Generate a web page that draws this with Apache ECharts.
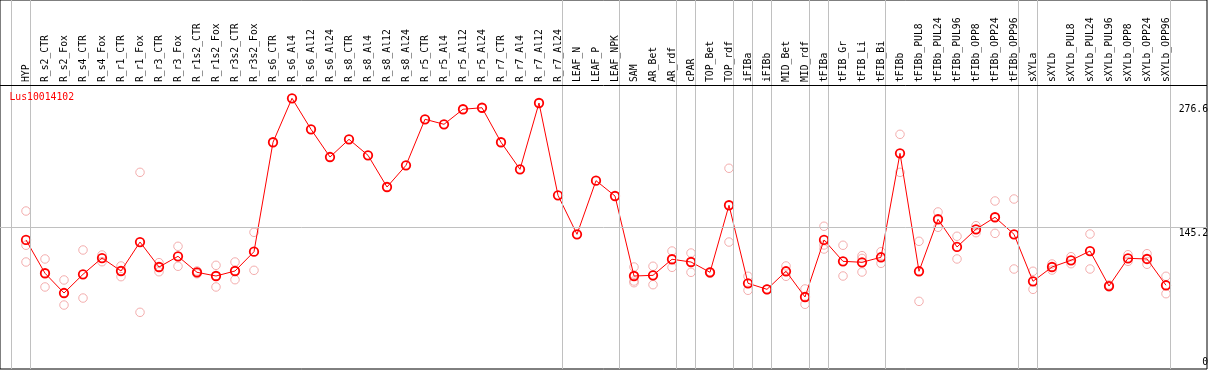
<!DOCTYPE html>
<html>
<head>
<meta charset="utf-8">
<script src="https://cdn.jsdelivr.net/npm/echarts@6/dist/echarts.min.js"></script>
<style>
html,body{margin:0;padding:0;background:#fff;}
#chart{width:1209px;height:370px;}
</style>
</head>
<body>
<div id="chart"></div>
<script>
// ---- data ----
const categories = ["HYP","R_s2_CTR","R_s2_Fox","R_s4_CTR","R_s4_Fox","R_r1_CTR","R_r1_Fox","R_r3_CTR","R_r3_Fox","R_r1s2_CTR","R_r1s2_Fox","R_r3s2_CTR","R_r3s2_Fox","R_s6_CTR","R_s6_Al4","R_s6_Al12","R_s6_Al24","R_s8_CTR","R_s8_Al4","R_s8_Al12","R_s8_Al24","R_r5_CTR","R_r5_Al4","R_r5_Al12","R_r5_Al24","R_r7_CTR","R_r7_Al4","R_r7_Al12","R_r7_Al24","LEAF_N","LEAF_P","LEAF_NPK","SAM","AR_Bet","AR_rdf","cPAR","TOP_Bet","TOP_rdf","iFIBa","iFIBb","MID_Bet","MID_rdf","tFIBa","tFIB_Gr","tFIB_Li","tFIB_Bi","tFIBb","tFIBb_PUL8","tFIBb_PUL24","tFIBb_PUL96","tFIBb_OPP8","tFIBb_OPP24","tFIBb_OPP96","sXYLa","sXYLb","sXYLb_PUL8","sXYLb_PUL24","sXYLb_PUL96","sXYLb_OPP8","sXYLb_OPP24","sXYLb_OPP96"];

const meanValues = [132.2,97.0,76.1,95.9,113.1,99.4,130.0,103.6,114.9,98.0,94.1,99.4,119.8,235.5,282.0,249.2,219.9,238.6,221.7,188.2,211.1,259.8,254.5,270.4,272.0,235.5,206.9,277.0,179.4,138.2,194.9,178.7,94.1,94.8,111.8,108.9,98.0,168.9,86.4,80.0,99.1,71.9,132.2,109.6,108.6,113.9,223.8,99.1,154.1,124.8,143.5,156.2,138.2,88.5,103.6,110.7,120.5,83.5,112.8,112.1,84.3];

const repA = [162.8,112.1,89.9,121.6,116.3,104.7,203.7,108.2,125.5,99.4,105.4,108.9,140.3,null,null,null,null,null,null,null,null,null,null,null,null,null,null,null,null,null,null,null,103.6,104.4,120.5,118.4,98.6,208.0,93.8,80.4,104.7,80.4,146.7,126.6,115.6,119.8,243.9,130.8,161.8,136.1,147.3,173.4,175.5,99.1,106.8,114.5,138.5,84.6,116.6,117.7,93.8];
const repB = [126.6,82.5,63.4,70.8,109.2,93.4,55.7,98.6,104.4,96.5,82.5,90.2,100.1,null,null,null,null,null,null,null,null,null,null,null,null,null,null,null,null,null,null,null,88.8,84.9,103.3,98.0,96.9,130.0,79.0,79.6,93.8,64.2,126.9,94.1,112.7,107.5,203.7,67.3,145.6,112.1,139.9,139.2,101.5,80.0,100.4,107.1,101.5,82.5,109.6,106.5,75.4];
const repC = [108.9,null,null,null,null,null,null,null,null,null,null,null,null,null,null,null,null,null,null,null,null,null,null,null,null,null,null,null,null,null,null,null,87.0,null,null,null,null,null,null,null,null,null,122.6,null,98.3,null,null,null,null,null,null,null,null,null,null,null,null,null,null,null,null];

// group separators: drawn after these category indices (-1 = before first)
const groupEnds = [-1,0,28,31,34,35,37,38,39,41,42,45,52,53,60];
const yTickLabels = [0,145.2,276.6];
const seriesName = "Lus10014102";

// ---- layout constants ----
const FONT = "DejaVu Sans Mono";
const FS = 9.75;
const PX = 0.9458;                 // pixels per unit
const xMin = -26/19, xMax = 1181/19;
const yMin = -4/PX, yMax = 365/PX;
const headerLine = 280/PX;         // value at the header/plot divider
const sepOffset = 4.5/19;

const repData = [];
[repA, repB, repC].forEach(arr => arr.forEach((v, i) => { if (v != null) repData.push([i, v]); }));
const meanData = meanValues.map((v, i) => [i, v]);

const markData = groupEnds.map(g => ({ xAxis: g + sepOffset, label: { show: false } }));
markData.push({ yAxis: headerLine, lineStyle: { color: '#000', width: 1, type: 'solid' }, label: { show: false } });
yTickLabels.forEach(t => {
  markData.push({
    yAxis: t,
    lineStyle: { color: t === 145.2 ? '#c0c0c0' : 'transparent', width: 1, type: 'solid' },
    label: {
      show: true,
      position: t === 0 ? 'insideEndTop' : 'insideEndBottom',
      formatter: String(t),
      color: '#000',
      fontFamily: FONT,
      fontSize: FS,
      distance: t === 0 ? [-1, -2] : [-1, 1]
    }
  });
});

const chart = echarts.init(document.getElementById('chart'), null, { renderer: 'canvas' });
chart.setOption({
  animation: false,
  backgroundColor: '#fff',
  title: {
    text: seriesName,
    left: 9.5, top: 92, padding: 0,
    textStyle: { color: '#ff0000', fontFamily: FONT, fontSize: FS, fontWeight: 'normal' }
  },
  grid: { left: 0, right: 2, top: 0, bottom: 1, show: true, borderColor: '#000', borderWidth: 1, backgroundColor: '#fff' },
  xAxis: {
    type: 'value', position: 'top', offset: -85,
    min: xMin, max: xMax,
    axisLine: { show: true, lineStyle: { color: 'transparent', width: 1 } },
    axisTick: { show: false },
    splitLine: { show: false },
    axisLabel: {
      customValues: categories.map((_, i) => i),
      formatter: v => categories[Math.round(v)],
      rotate: 90, margin: 3,
      fontFamily: FONT, fontSize: FS, color: '#000'
    }
  },
  yAxis: {
    type: 'value', position: 'right', min: yMin, max: yMax,
    axisLine: { show: false }, axisTick: { show: false }, axisLabel: { show: false }, splitLine: { show: false }
  },
  series: [
    {
      type: 'scatter', name: 'replicates', z: 1,
      data: repData,
      symbol: 'circle', symbolSize: 8.5,
      itemStyle: { color: 'transparent', borderColor: '#f09a9a', borderWidth: 1 },
      markLine: {
        silent: true, symbol: ['none', 'none'], animation: false,
        lineStyle: { color: '#c0c0c0', width: 1, type: 'solid' },
        data: markData
      }
    },
    {
      type: 'line', name: seriesName, z: 3,
      data: meanData,
      symbol: 'circle', symbolSize: 8.5,
      lineStyle: { color: '#ff0000', width: 1 },
      itemStyle: { color: 'transparent', borderColor: '#ff0000', borderWidth: 1.8 }
    }
  ]
});
</script>
</body>
</html>
